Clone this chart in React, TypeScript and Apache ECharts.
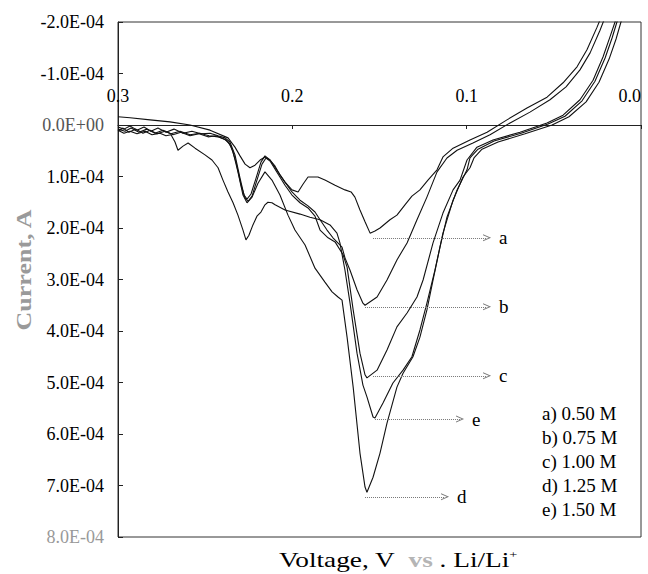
import React, { useEffect, useRef } from 'react';
import * as echarts from 'echarts';

// Voltage (V vs Li/Li+), current in units of 1E-04 A (positive = downward in plot)
const curveA: [number, number][] = [
  [0.3, -0.16], [0.2931, -0.14], [0.2816, -0.1], [0.2702, -0.06], [0.2587, 0.0], [0.2472, 0.1],
  [0.2369, 0.25], [0.2329, 0.43], [0.23, 0.6], [0.2271, 0.76], [0.2243, 0.83], [0.2214, 0.78],
  [0.2185, 0.68], [0.2157, 0.62], [0.2128, 0.68], [0.2099, 0.8], [0.2071, 0.97], [0.2042, 1.11],
  [0.2002, 1.26], [0.1967, 1.3], [0.1939, 1.15], [0.191, 1.01], [0.1853, 1.01], [0.1813, 1.07],
  [0.1755, 1.17], [0.1698, 1.26], [0.1663, 1.3], [0.1641, 1.4], [0.1612, 1.65], [0.1583, 1.88],
  [0.1554, 2.1], [0.1526, 2.06], [0.1497, 2.0], [0.144, 1.84], [0.14, 1.75], [0.1354, 1.55],
  [0.1314, 1.38], [0.1268, 1.26], [0.1222, 1.07], [0.117, 0.87], [0.1136, 0.62], [0.1078, 0.45],
  [0.0981, 0.29], [0.0883, 0.14], [0.0769, -0.1], [0.0654, -0.33], [0.0539, -0.54], [0.0447, -0.82],
  [0.0367, -1.13], [0.031, -1.46], [0.0252, -1.9], [0.0235, -2.04],
];

const curveB: [number, number][] = [
  [0.3, 0.04], [0.2966, 0.08], [0.2931, 0.02], [0.2891, 0.1], [0.2851, 0.04], [0.2811, 0.12],
  [0.2771, 0.06], [0.2725, 0.14], [0.2679, 0.08], [0.2627, 0.16], [0.2576, 0.12], [0.2524, 0.17],
  [0.2472, 0.16], [0.2426, 0.21], [0.2386, 0.25], [0.2358, 0.33], [0.2329, 0.58], [0.23, 1.03],
  [0.2277, 1.36], [0.226, 1.44], [0.2237, 1.34], [0.2208, 1.03], [0.218, 0.72], [0.2157, 0.6],
  [0.2128, 0.68], [0.2082, 0.91], [0.2042, 1.11], [0.2002, 1.3], [0.1956, 1.46], [0.191, 1.57],
  [0.187, 1.69], [0.1841, 1.84], [0.1801, 2.04], [0.1767, 2.19], [0.1715, 2.37], [0.1698, 2.58],
  [0.1669, 2.82], [0.1629, 3.2], [0.1595, 3.46], [0.1583, 3.5], [0.1514, 3.34], [0.1457, 3.01],
  [0.14, 2.62], [0.1342, 2.29], [0.1285, 1.84], [0.1228, 1.4], [0.117, 0.91], [0.1113, 0.64],
  [0.1055, 0.49], [0.0964, 0.35], [0.0866, 0.19], [0.0751, -0.04], [0.0637, -0.25], [0.0522, -0.49],
  [0.043, -0.74], [0.035, -1.07], [0.0292, -1.4], [0.0235, -1.84], [0.0212, -2.04],
];

const curveC: [number, number][] = [
  [0.3, 0.08], [0.296, 0.12], [0.2925, 0.06], [0.288, 0.14], [0.2834, 0.08], [0.2788, 0.16],
  [0.2742, 0.1], [0.2696, 0.17], [0.2644, 0.12], [0.2587, 0.19], [0.253, 0.16], [0.2478, 0.21],
  [0.2426, 0.23], [0.238, 0.29], [0.2352, 0.41], [0.2323, 0.72], [0.2294, 1.17], [0.2271, 1.42],
  [0.2254, 1.48], [0.2231, 1.38], [0.2203, 1.07], [0.2174, 0.76], [0.2151, 0.64], [0.2128, 0.7],
  [0.2082, 0.95], [0.2042, 1.17], [0.2002, 1.36], [0.1956, 1.51], [0.191, 1.61], [0.187, 1.77],
  [0.1841, 2.04], [0.1795, 2.19], [0.1755, 2.27], [0.1709, 2.52], [0.1686, 2.76], [0.1651, 3.59],
  [0.1612, 4.43], [0.1583, 4.85], [0.1572, 4.91], [0.1514, 4.76], [0.1457, 4.37], [0.14, 3.92],
  [0.1342, 3.65], [0.1285, 3.34], [0.125, 3.01], [0.1193, 2.29], [0.1136, 1.71], [0.1078, 1.26],
  [0.1038, 1.07], [0.0998, 0.68], [0.0941, 0.43], [0.0849, 0.29], [0.0694, 0.14], [0.0539, -0.04],
  [0.0447, -0.19], [0.035, -0.49], [0.0275, -0.87], [0.0218, -1.32], [0.0178, -1.71], [0.0149, -2.0],
  [0.0143, -2.08],
];

const curveD: [number, number][] = [
  [0.3, 0.12], [0.2971, 0.06], [0.2937, 0.14], [0.2897, 0.08], [0.2857, 0.16], [0.2816, 0.1],
  [0.2776, 0.17], [0.273, 0.12], [0.2685, 0.19], [0.2639, 0.14], [0.2587, 0.21], [0.2535, 0.17],
  [0.2484, 0.23], [0.2438, 0.21], [0.2392, 0.27], [0.2363, 0.35], [0.234, 0.52], [0.2312, 0.91],
  [0.2283, 1.36], [0.226, 1.51], [0.2231, 1.4], [0.2197, 1.13], [0.2157, 0.91], [0.2117, 1.07],
  [0.2071, 1.36], [0.2025, 1.75], [0.1985, 2.04], [0.1927, 2.33], [0.187, 2.78], [0.1813, 3.05],
  [0.1772, 3.24], [0.1738, 3.34], [0.1715, 3.4], [0.1686, 4.12], [0.1651, 5.09], [0.1612, 6.37],
  [0.1583, 7.03], [0.1572, 7.13], [0.1537, 6.84], [0.1497, 6.37], [0.1457, 5.79], [0.14, 5.09],
  [0.1365, 4.82], [0.1308, 4.5], [0.1268, 4.12], [0.1228, 3.59], [0.1193, 3.01], [0.1153, 2.37],
  [0.1113, 1.79], [0.1055, 1.26], [0.0998, 0.87], [0.0981, 0.64], [0.0935, 0.47], [0.0843, 0.31],
  [0.0688, 0.16], [0.0533, -0.02], [0.0436, -0.17], [0.0338, -0.47], [0.0264, -0.85], [0.0206, -1.3],
  [0.0166, -1.69], [0.0138, -2.0], [0.0132, -2.08],
];

const curveE: [number, number][] = [
  [0.3, 0.1], [0.2966, 0.16], [0.2931, 0.12], [0.2891, 0.17], [0.2845, 0.12], [0.2805, 0.19],
  [0.2759, 0.16], [0.2725, 0.21], [0.2696, 0.19], [0.2673, 0.33], [0.2656, 0.49], [0.2627, 0.41],
  [0.2598, 0.35], [0.2558, 0.45], [0.2501, 0.58], [0.2461, 0.68], [0.2426, 0.83], [0.2398, 1.07],
  [0.2369, 1.3], [0.234, 1.51], [0.2312, 1.75], [0.2283, 2.04], [0.2266, 2.23], [0.2249, 2.14],
  [0.2226, 1.94], [0.2203, 1.77], [0.218, 1.69], [0.2157, 1.55], [0.214, 1.5], [0.2117, 1.51],
  [0.2099, 1.55], [0.2042, 1.65], [0.1956, 1.73], [0.1899, 1.79], [0.1841, 1.84], [0.1784, 1.94],
  [0.1744, 2.1], [0.1727, 2.29], [0.1698, 2.82], [0.1669, 3.46], [0.1629, 4.43], [0.1595, 5.05],
  [0.1572, 5.28], [0.1537, 5.67], [0.1526, 5.69], [0.148, 5.4], [0.1423, 5.01], [0.1365, 4.76],
  [0.1314, 4.5], [0.1268, 3.98], [0.1228, 3.46], [0.1182, 2.82], [0.1136, 2.1], [0.1078, 1.46],
  [0.1021, 1.01], [0.0981, 0.83], [0.0958, 0.64], [0.0912, 0.47], [0.082, 0.33], [0.0665, 0.17],
  [0.051, 0.0], [0.0413, -0.16], [0.0315, -0.45], [0.0241, -0.83], [0.0183, -1.28], [0.0143, -1.67],
  [0.0115, -2.0], [0.0109, -2.08],
];

// Peak annotations: [label, start voltage, end voltage, current]
const peakLabels: [string, number, number, number][] = [
  ['a', 0.1537, 0.0883, 2.19],
  ['b', 0.1583, 0.0883, 3.53],
  ['c', 0.1537, 0.0883, 4.87],
  ['e', 0.1526, 0.1038, 5.71],
  ['d', 0.1583, 0.1124, 7.22],
];

const legendLines = ['a) 0.50 M', 'b) 0.75 M', 'c) 1.00 M', 'd) 1.25 M', 'e) 1.50 M'];

const xTicks = { min: 0, max: 0.3, interval: 0.1 };
const yTicks = { min: -2, max: 8, interval: 1 };

const SERIF = '"Liberation Serif", "DejaVu Serif", serif';

const chevron = 'path://M0,10 L5,0 L10,10 L8.6,10 L5,2.8 L1.4,10 Z';

const GRID_TOP = 22;
const GRID_BOTTOM = 37;
const CHART_H = 574;

function yFmt(v: number): string {
  const r = Math.round(v * 10) / 10;
  if (r === 0) return '0.0E+00';
  return r.toFixed(1) + 'E-04';
}

export default function App() {
  const ref = useRef<HTMLDivElement>(null);
  useEffect(() => {
    document.body.style.margin = '0';
    const chart = echarts.init(ref.current!, null, { renderer: 'svg' });
    const curves = [curveA, curveB, curveC, curveD, curveE];
    const names = ['a', 'b', 'c', 'd', 'e'];
    const series: any[] = curves.map((c, i) => ({
      type: 'line',
      name: names[i],
      data: c,
      showSymbol: false,
      symbol: 'none',
      clip: true,
      lineStyle: { color: '#111', width: 1.1 },
      silent: true,
    }));
    series[0].markLine = {
      silent: true,
      symbol: ['none', chevron],
      symbolSize: [7, 8],
      lineStyle: { type: 'dotted', color: '#777', width: 1 },
      label: {
        show: true,
        position: 'end',
        distance: 12,
        formatter: '{b}',
        fontFamily: SERIF,
        fontSize: 19,
        color: '#000',
      },
      data: peakLabels.map(([n, x1, x2, y]) => [
        { name: n, coord: [x1, y] },
        { name: n, coord: [x2, y] },
      ]),
    };

    // x-axis sits on the zero current line: shift the top axis down by the zero's distance
    const plotH = CHART_H - GRID_TOP - GRID_BOTTOM;
    const zeroOffset = ((0 - yTicks.min) / (yTicks.max - yTicks.min)) * plotH;

    chart.setOption({
      animation: false,
      grid: {
        left: 118,
        right: 7,
        top: GRID_TOP,
        bottom: GRID_BOTTOM,
        show: true,
        borderColor: '#333',
        borderWidth: 1,
        outerBoundsMode: 'none',
      },
      xAxis: {
        type: 'value',
        min: xTicks.min,
        max: xTicks.max,
        interval: xTicks.interval,
        inverse: true,
        position: 'top',
        offset: -zeroOffset,
        axisLine: { show: true, onZero: false, lineStyle: { color: '#222', width: 1 } },
        axisTick: { show: true, inside: true, length: 4, lineStyle: { color: '#222' } },
        axisLabel: {
          margin: 20,
          fontFamily: SERIF,
          fontSize: 18,
          color: '#000',
          hideOverlap: false,
          alignMinLabel: 'right',
          formatter: (v: number) => v.toFixed(1),
        },
        splitLine: { show: false },
      },
      yAxis: {
        type: 'value',
        min: yTicks.min,
        max: yTicks.max,
        interval: yTicks.interval,
        inverse: true,
        axisLine: { show: true, onZero: false, lineStyle: { color: '#222', width: 1 } },
        axisTick: { show: true, inside: true, length: 5, lineStyle: { color: '#222' } },
        axisLabel: {
          margin: 14,
          fontFamily: SERIF,
          fontSize: 18,
          color: (v: any) => {
            const n = Number(v);
            return Math.abs(n) < 1e-9 ? '#555' : Math.abs(n - 8) < 1e-9 ? '#999' : '#000';
          },
          formatter: yFmt,
        },
        splitLine: { show: false },
      },
      graphic: [
        {
          type: 'text',
          x: 24,
          y: 270,
          rotation: Math.PI / 2,
          scaleX: 1.3,
          style: {
            text: 'Current, A',
            fontFamily: SERIF,
            fontSize: 20,
            fontWeight: 'bold',
            fill: '#9a9a9a',
            align: 'center',
            verticalAlign: 'middle',
          },
        },
        {
          type: 'text',
          x: 398,
          y: 560,
          scaleX: 1.3,
          style: {
            text: 'Voltage, V  {g|vs} . Li/Li{s|+}',
            fontFamily: SERIF,
            fontSize: 21,
            fill: '#000',
            align: 'center',
            verticalAlign: 'middle',
            rich: {
              g: { fontFamily: SERIF, fontSize: 21, fill: '#b5b5b5', fontWeight: 'bold' },
              s: { fontFamily: SERIF, fontSize: 11, fill: '#000', verticalAlign: 'top', padding: [0, 0, 10, 0] },
            },
          },
        },
        {
          type: 'text',
          x: 542,
          y: 401,
          style: {
            text: legendLines.join('\n'),
            fontFamily: SERIF,
            fontSize: 19,
            lineHeight: 24,
            fill: '#000',
            align: 'left',
            verticalAlign: 'top',
          },
        },
      ],
      series,
    });
    return () => chart.dispose();
  }, []);
  return <div ref={ref} style={{ width: 648, height: 574 }} />;
}
